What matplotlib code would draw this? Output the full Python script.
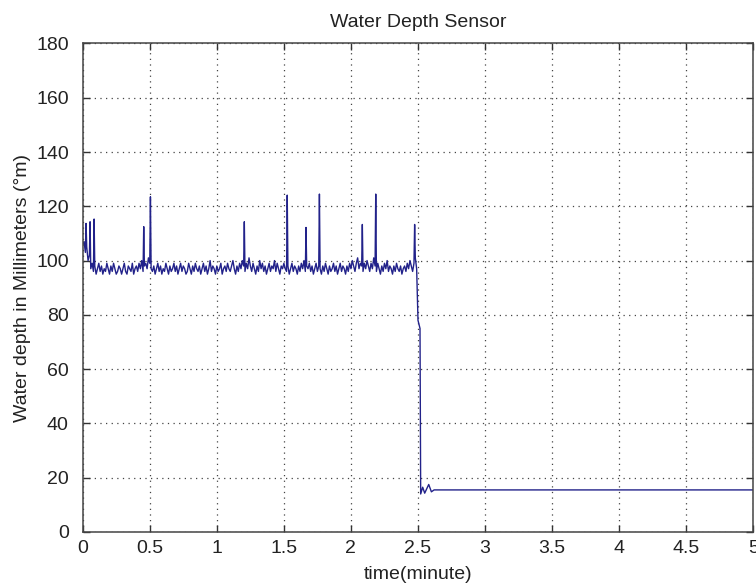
import matplotlib
matplotlib.use("Agg")
import matplotlib.pyplot as plt
import numpy as np

# baseline sensor readings, one every 0.01 min from t = 0 to 2.48
base_depth = [
    106, 107, 103, 105, 100, 102, 97, 99, 96, 98,
    95, 97, 99, 96, 98, 95, 97, 96, 99, 97,
    95, 98, 96, 99, 97, 95, 96, 98, 97, 95,
    97, 99, 96, 95, 98, 97, 96, 99, 95, 97,
    98, 96, 99, 97, 100, 96, 98, 99, 97, 101,
    99, 97, 96, 98, 95, 97, 99, 96, 98, 95,
    97, 96, 99, 97, 95, 98, 96, 97, 99, 96,
    98, 95, 97, 99, 96, 98, 97, 95, 96, 99,
    97, 95, 98, 96, 99, 97, 96, 98, 95, 97,
    99, 96, 98, 95, 97, 100, 96, 98, 97, 95,
    98, 96, 97, 99, 95, 97, 98, 96, 99, 97,
    96, 98, 100, 97, 95, 98, 96, 99, 97, 100,
    98, 96, 99, 97, 101, 98, 96, 99, 97, 95,
    98, 96, 100, 97, 99, 96, 98, 95, 97, 99,
    96, 98, 97, 100, 96, 99, 97, 95, 98, 97,
    99, 97, 96, 98, 95, 97, 99, 96, 98, 97,
    95, 98, 96, 99, 97, 100, 96, 98, 97, 99,
    96, 98, 95, 97, 99, 96, 98, 97, 95, 98,
    96, 99, 97, 95, 98, 96, 97, 99, 96, 98,
    95, 97, 99, 96, 98, 97, 95, 98, 96, 99,
    97, 100, 98, 96, 99, 101, 97, 99, 98, 96,
    99, 97, 100, 98, 96, 99, 97, 101, 98, 96,
    99, 97, 95, 98, 96, 99, 97, 100, 96, 98,
    97, 95, 98, 96, 99, 97, 96, 98, 95, 97,
    98, 96, 99, 97, 100, 98, 96, 99, 101,
]
base_time = np.arange(len(base_depth)) * 0.01

# single-sample spikes
spike_time = [0.025, 0.055, 0.085, 0.455, 0.505, 1.205, 1.525, 1.665, 1.765, 2.085, 2.185, 2.475]
spike_depth = [113.7, 114.3, 115.3, 112.5, 123.5, 114.3, 124.1, 112.2, 124.5, 113.3, 124.5, 113.3]

# drain and settled level
drop_time = [2.49, 2.50, 2.515, 2.52, 2.535, 2.55, 2.58, 2.60, 2.62, 5.0]
drop_depth = [97, 78, 75, 14, 16.5, 14.3, 17.5, 14.8, 15.5, 15.5]

t = np.concatenate([base_time, spike_time])
d = np.concatenate([base_depth, spike_depth])
order = np.argsort(t, kind="stable")
t = np.concatenate([t[order], drop_time])
d = np.concatenate([d[order], drop_depth])

xticks = [0, 0.5, 1, 1.5, 2, 2.5, 3, 3.5, 4, 4.5, 5]
xticklabels = ["0", "0.5", "1", "1.5", "2", "2.5", "3", "3.5", "4", "4.5", "5"]
yticks = [0, 20, 40, 60, 80, 100, 120, 140, 160, 180]

plt.rcParams["font.family"] = ["Liberation Sans", "DejaVu Sans"]

fig = plt.figure(figsize=(7.56, 5.83), dpi=100)
ax = fig.add_axes([0.1094, 0.0875, 0.887, 0.838])

ax.plot(t, d, color="#22228a", linewidth=1.0)

ax.set_xlim(0, 5)
ax.set_ylim(0, 180)
ax.set_xticks(xticks)
ax.set_xticklabels(xticklabels)
ax.set_yticks(yticks)

ax.grid(True, color="#444444", linestyle=(0, (1, 3.5)), linewidth=0.9)
ax.tick_params(direction="in", length=5, width=1, colors="#333333",
               labelsize=14, top=True, right=True, labelcolor="#222222")
ax.tick_params(axis="y", pad=10)
ax.tick_params(axis="x", pad=6)
for s in ax.spines.values():
    s.set_color("#444444")
    s.set_linewidth(1.1)

ax.set_title("Water Depth Sensor", fontsize=14, color="#222222", pad=12)
ax.set_xlabel("time(minute)", fontsize=14, color="#222222", labelpad=6)
ax.set_ylabel("Water depth in Millimeters (°m)", fontsize=14, color="#222222", labelpad=4)

fig.savefig("out.png", dpi=100)
